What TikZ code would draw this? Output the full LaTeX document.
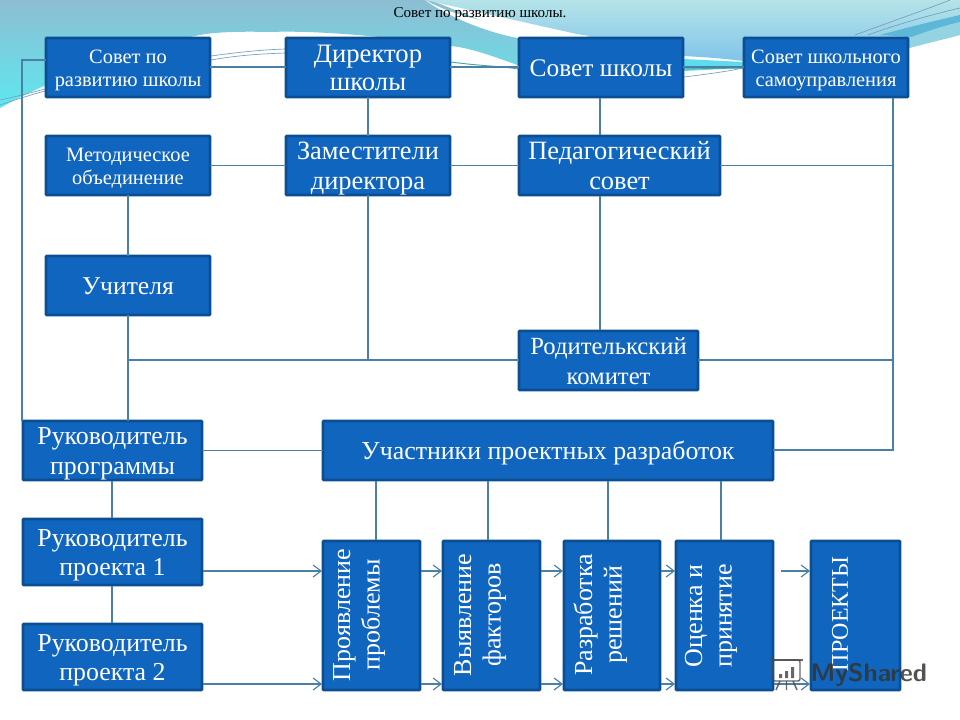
\documentclass[tikz,border=0pt]{standalone}
\usepackage{fontspec}
\setmainfont{Liberation Serif}
\usetikzlibrary{arrows.meta}
\definecolor{boxfill}{HTML}{1066BE}
\definecolor{boxline}{HTML}{0B4F92}
\definecolor{conn}{HTML}{4A7FA6}
\definecolor{skyA}{HTML}{8DBDD2}
\definecolor{skyB}{HTML}{5EE8F0}
\definecolor{skyC}{HTML}{B5E4E8}
\definecolor{skyD}{HTML}{80C4EA}
\definecolor{bandA}{HTML}{5CB8D6}
\definecolor{bandB}{HTML}{93D3E2}
\definecolor{streak}{HTML}{5FDCEC}
\tikzset{
  bx/.style={draw=boxline,line width=2pt,fill=boxfill,inner sep=0pt,outer sep=0pt,anchor=north west,rounded corners=0.6pt,xshift=0.75pt,yshift=-0.75pt},
  bxlabel/.style={text=white,align=center,inner sep=0pt,yshift=-2.25pt},
  conline/.style={draw=conn,line width=0.85pt},
  conarrow/.style={conline,-{Straight Barb[length=6pt,width=9pt]}},
  vtext/.style={rotate=90,text=white,align=center,font=\fontsize{19.5}{22}\selectfont},
  thinline/.style={draw=conn!75,line width=0.5pt},
  tealline/.style={draw=teal!70,line width=0.7pt},
}
% name, x, y, width, height (all px)
\newcommand{\bxshape}[5]{\node[bx,minimum width=(#4-2)*0.75pt,minimum height=(#5-2)*0.75pt] (#1) at (#2,#3) {};}
% name, x, y, width, height, font size, leading, text
\newcommand{\bxtext}[8]{\bxshape{#1}{#2}{#3}{#4}{#5}\node[bxlabel,font=\fontsize{#6}{#7}\selectfont] (#1t) at (#1.center) {\strut #8\strut};}
\begin{document}
\begin{tikzpicture}[x=0.75pt,y=-0.75pt]
\useasboundingbox (0,0) rectangle (960,720);
\fill[white] (0,0) rectangle (960,720);
% backdrop
\shade[top color=skyA,bottom color=skyB]
 (0,0) -- (430,0) -- (520,36) -- (520,66) .. controls (490,55) and (470,48) .. (451,46) .. controls (400,38) and (320,30) .. (270,32) .. controls (230,31) and (210,33) .. (200,35) .. controls (130,48) and (50,80) .. (0,108) -- cycle;
\shade[top color=skyC,bottom color=skyD]
 (425,0) -- (960,0) -- (960,35) .. controls (940,40) and (920,45) .. (909,48) -- (743,61) .. controls (720,58) and (700,57) .. (684,56) -- (590,37) -- cycle;
\fill[white] (425,0) .. controls (470,25) and (530,28) .. (590,36) -- (518,38) .. controls (490,33) and (450,18) .. (425,0) -- cycle;
\fill[bandA] (880,35) .. controls (905,28) and (930,22) .. (960,15) -- (960,22) .. controls (940,27) and (925,32) .. (912,37) -- cycle;
\fill[bandB] (912,37) .. controls (925,32) and (940,27) .. (960,22) -- (960,35) .. controls (940,40) and (920,45) .. (909,48) -- cycle;
\fill[streak] (684,59) -- (743,62) -- (743,68) -- (684,71) -- cycle;
\draw[thinline] (211,56) .. controls (240,52) and (260,50) .. (285,49);
\draw[thinline] (211,60) .. controls (240,55) and (260,54) .. (285,53);
\draw[thinline] (0,100) .. controls (15,97) and (30,93) .. (45,89);
\draw[thinline] (0,105) .. controls (15,100) and (30,95) .. (45,91);
\draw[thinline] (855,35) .. controls (890,22) and (925,10) .. (950,0);
\draw[thinline] (868,35) .. controls (895,25) and (930,15) .. (960,8);
\draw[thinline] (684,77) .. controls (700,75) and (725,72) .. (743,68);
\draw[tealline] (684,69) -- (743,68);
\draw[tealline] (451,62) .. controls (480,66) and (500,66) .. (518,69);
% title
\node[font=\fontsize{11.3}{12}\selectfont,text=black] (title) at (480,14) {Совет по развитию школы.};
% boxes
\bxtext{a1}{45}{37}{166}{61}{15.3}{17}{Совет по\\развитию школы}
\bxtext{a2}{285}{37}{166}{61}{20}{21}{Директор\\школы}
\bxtext{a3}{518}{37}{166}{61}{19}{21}{Совет школы}
\bxtext{a4}{743}{37}{166}{61}{15.3}{17}{Совет школьного\\самоуправления}
\bxtext{b1}{45}{135}{166}{61}{15.3}{17}{Методическое\\объединение}
\bxtext{b2}{285}{135}{166}{61}{19.8}{22}{Заместители\\директора}
\bxtext{b3}{518}{135}{203}{61}{19.8}{22}{Педагогический\\совет}
\bxtext{c1}{45}{255}{166}{61}{19.2}{21}{Учителя}
\bxtext{c2}{518}{330}{181}{61}{18.5}{22}{Родителькский\\комитет}
\bxtext{d1}{22}{420}{181}{61}{19.4}{22}{Руководитель\\программы}
\bxtext{d2}{322}{420}{452}{61}{19.4}{22}{Участники проектных разработок}
\bxtext{e1}{22}{518}{181}{68}{19.4}{22}{Руководитель\\проекта 1}
\bxtext{e2}{22}{623}{181}{68}{19.4}{22}{Руководитель\\проекта 2}
\bxshape{f1}{322}{540}{99}{151}
\bxshape{f2}{442}{540}{99}{151}
\bxshape{f3}{563}{540}{98}{151}
\bxshape{f4}{675}{540}{99}{151}
\bxshape{f5}{810}{540}{91}{151}
\node[vtext] (t1) at (359,615) {\strut Проявление\\проблемы\strut};
\node[vtext] (t2) at (480,615) {\strut Выявление\\факторов\strut};
\node[vtext] (t3) at (601,615) {\strut Разработка\\решений\strut};
\node[vtext] (t4) at (711,616) {\strut Оценка и\\принятие\strut};
\node[vtext,font=\fontsize{18}{22}\selectfont] (t5) at (842,614) {\strut ПРОЕКТЫ};
% junctions
\coordinate (j1) at (22,60);
\coordinate (j2) at (893,165.5);
\coordinate (j3) at (893,360);
\coordinate (j4) at (893,450);
\coordinate (j5) at (128,360);
\coordinate (j6) at (368,360);
\coordinate (s1) at (781,571);
% connectors
\draw[conline] (a1.east |- 0,67) -- (a2.west |- 0,67);
\draw[conline] (a2.east |- 0,67) -- (a3.west |- 0,67);
\draw[conline] (a3.east |- 0,67) -- (a4.west |- 0,67);
\draw[conline] (a1.west |- j1) -- (j1) -- (j1 |- d1.north);
\draw[conline] (a2.south) -- (b2.north);
\draw[conline] (600,98) -- (600,135);
\draw[conline] (893,98) -- (j4) -- (d2.east |- j4);
\draw[conline] (b1.east) -- (b2.west);
\draw[conline] (b2.east) -- (b3.west);
\draw[conline] (b3.east) -- (j2);
\draw[conline] (b1.south) -- (c1.north);
\draw[conline] (c1.south) -- (c1.south |- d1.north);
\draw[conline] (b2.south) -- (j6);
\draw[conline] (600,196) -- (600,330);
\draw[conline] (j5) -- (c2.west |- j5);
\draw[conline] (c2.east |- j3) -- (j3);
\draw[conline] (d1.east) -- (d2.west);
\draw[conline] (112,481) -- (112,518);
\draw[conline] (112,586) -- (112,623);
\draw[conline] (376,481) -- (376,540);
\draw[conline] (488,481) -- (488,540);
\draw[conline] (608,481) -- (608,540);
\draw[conline] (721,481) -- (721,540);
\draw[conarrow] (203,571) -- (322,571);
\draw[conarrow] (203,684) -- (322,684);
\draw[conarrow] (421,571) -- (442,571);
\draw[conarrow] (421,684) -- (442,684);
\draw[conarrow] (541,571) -- (563,571);
\draw[conarrow] (541,684) -- (563,684);
\draw[conarrow] (661,571) -- (675,571);
\draw[conarrow] (661,684) -- (675,684);
\draw[conarrow] (s1) -- (810,571);
\draw[conarrow] (774,684) -- (810,684);
% watermark
\node[font=\sffamily\bfseries\fontsize{19}{20}\selectfont,text=black!80,opacity=0.85,anchor=west] (wm) at (806,675) {MyShared};
\begin{scope}[black!70,line width=1.1pt,opacity=0.85]
\draw[rounded corners=1.5pt] (773,660) rectangle (800,681);
\draw (770,660) -- (803,660);
\draw (780,681) -- (776,690) (786.5,681) -- (786.5,690) (793,681) -- (797,690);
\fill (779,674) rectangle (782,678) (785,671) rectangle (788,678) (791,667) rectangle (794,678);
\end{scope}
\end{tikzpicture}
\end{document}
